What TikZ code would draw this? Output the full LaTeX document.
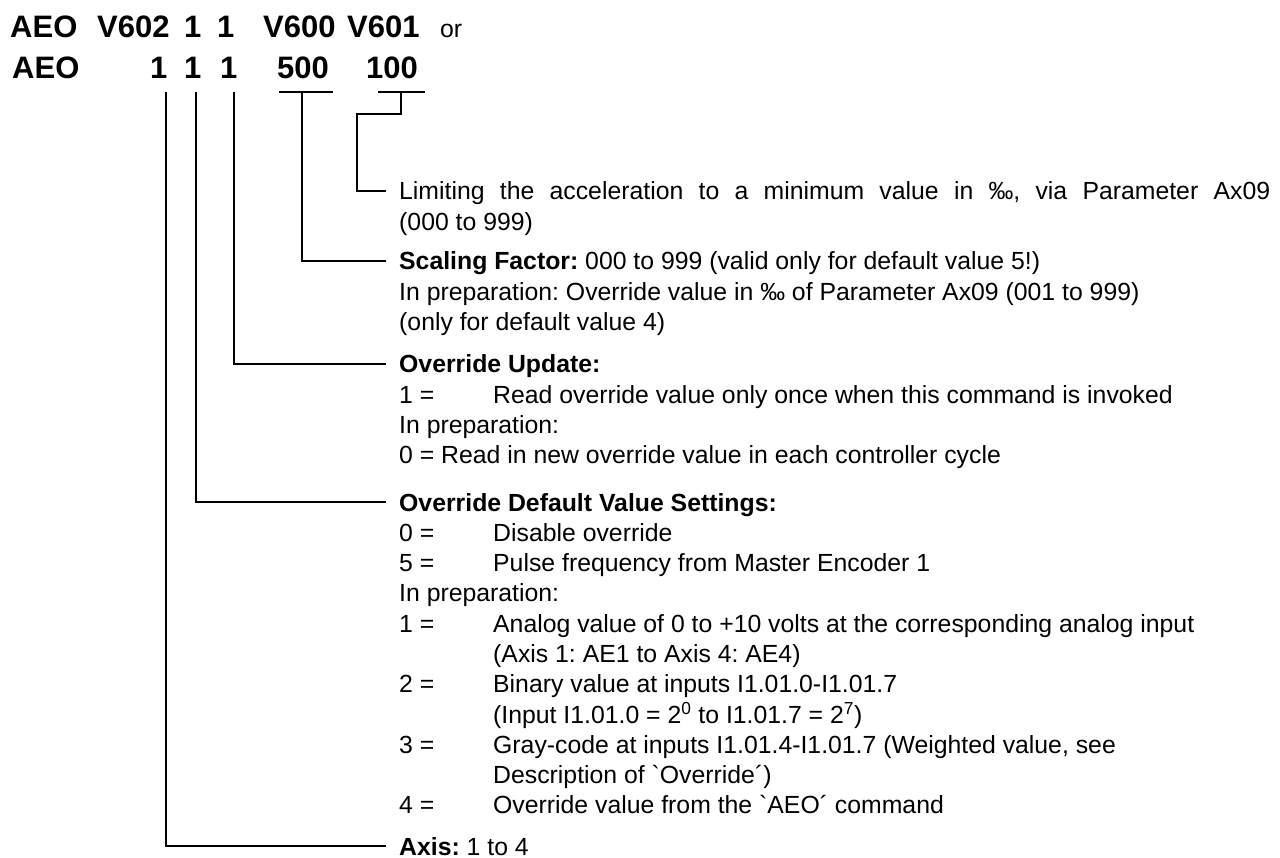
\documentclass[tikz,border=0pt]{standalone}
\usepackage{fontspec}
\setmainfont{Liberation Sans}[Ligatures=TeXOff]
\frenchspacing
\tikzset{
  cmd/.style={font=\fontsize{31}{36}\selectfont\bfseries,inner sep=0pt,anchor=base west},
  desc/.style={font=\fontsize{24.8}{30.3}\selectfont,inner sep=0pt,anchor=base west,
    align=left,text width=880pt,execute at begin node=\natsp},
  lead/.style={line width=1.5pt}
}
\newcommand{\natsp}{\spaceskip=0pt\xspaceskip=0pt\relax}
\newcommand{\tabto}[1]{\makebox[94pt][l]{#1}}
\newcommand{\hd}[1]{\textbf{#1}}
\begin{document}
\begin{tikzpicture}[x=1pt,y=-1pt,line join=miter]
\useasboundingbox (0,0) rectangle (1280,858);
% command line with variables
\node[cmd] (aeo-a) at (10,38) {AEO};
\node[cmd] (v602) at (97,38) {V602};
\node[cmd] (one-a) at (184,38) {1};
\node[cmd] (one-b) at (217,38) {1};
\node[cmd] (v600) at (263,38) {V600};
\node[cmd] (v601) at (347,38) {V601};
\node[inner sep=0pt,anchor=base west,font=\fontsize{24.8}{30}\selectfont] (or) at (440,38) {or};
% command line with values
\node[cmd] (aeo-b) at (12,79) {AEO};
\node[cmd] (axis) at (150,79) {1};
\node[cmd] (dflt) at (184,79) {1};
\node[cmd] (upd) at (220,79) {1};
\node[cmd] (scl) at (277,79) {500};
\node[cmd] (lim) at (366,79) {100};
% descriptions
\node[desc] (t-lim) at (399,200) {\makebox[871pt][s]{\natsp Limiting the acceleration to a minimum value in ‰, via Parameter Ax09}\\
  (000 to 999)};
\node[desc] (t-scl) at (399,270) {\hd{Scaling Factor:} 000 to 999 (valid only for default value 5!)\\
  In preparation: Override value in ‰ of Parameter Ax09 (001 to 999)\\
  (only for default value 4)};
\node[desc] (t-upd) at (399,373) {\hd{Override Update:}\\
  \tabto{1 =}Read override value only once when this command is invoked\\
  In preparation:\\
  0 = Read in new override value in each controller cycle};
\node[desc] (t-dflt) at (399,511) {\hd{Override Default Value Settings:}\\
  \tabto{0 =}Disable override\\
  \tabto{5 =}Pulse frequency from Master Encoder 1\\
  In preparation:\\
  \tabto{1 =}Analog value of 0 to +10 volts at the corresponding analog input\\
  \tabto{}(Axis 1: AE1 to Axis 4: AE4)\\
  \tabto{2 =}Binary value at inputs I1.01.0-I1.01.7\\
  \tabto{}(Input I1.01.0 = 2\textsuperscript{0} to I1.01.7 = 2\textsuperscript{7})\\
  \tabto{3 =}Gray-code at inputs I1.01.4-I1.01.7 (Weighted value, see\\
  \tabto{}Description of `Override´)\\
  \tabto{4 =}Override value from the `AEO´ command};
\node[desc] (t-axis) at (399,855) {\hd{Axis:} 1 to 4};
% taps under the values
\coordinate (axis-top) at (166,92);
\coordinate (dflt-top) at (196,92);
\coordinate (upd-top) at (234,92);
\coordinate (scl-top) at (302,92);
\coordinate (lim-top) at (401,92);
\coordinate (lim-bend) at (357,114);
% ends beside the descriptions
\coordinate (lim-in) at ([shift={(-13pt,9pt)}]t-lim.base west);
\coordinate (scl-in) at ([shift={(-13pt,9pt)}]t-scl.base west);
\coordinate (upd-in) at ([shift={(-13pt,9pt)}]t-upd.base west);
\coordinate (dflt-in) at ([shift={(-13pt,9pt)}]t-dflt.base west);
\coordinate (axis-in) at ([shift={(-13pt,9pt)}]t-axis.base west);
% brackets
\draw[lead] (279,92) -- (333,92);
\draw[lead] (378,92) -- (425,92);
% leader lines
\draw[lead] (lim-top) |- (lim-bend) |- (lim-in);
\draw[lead] (scl-top) |- (scl-in);
\draw[lead] (upd-top) |- (upd-in);
\draw[lead] (dflt-top) |- (dflt-in);
\draw[lead] (axis-top) |- (axis-in);
\end{tikzpicture}
\end{document}
